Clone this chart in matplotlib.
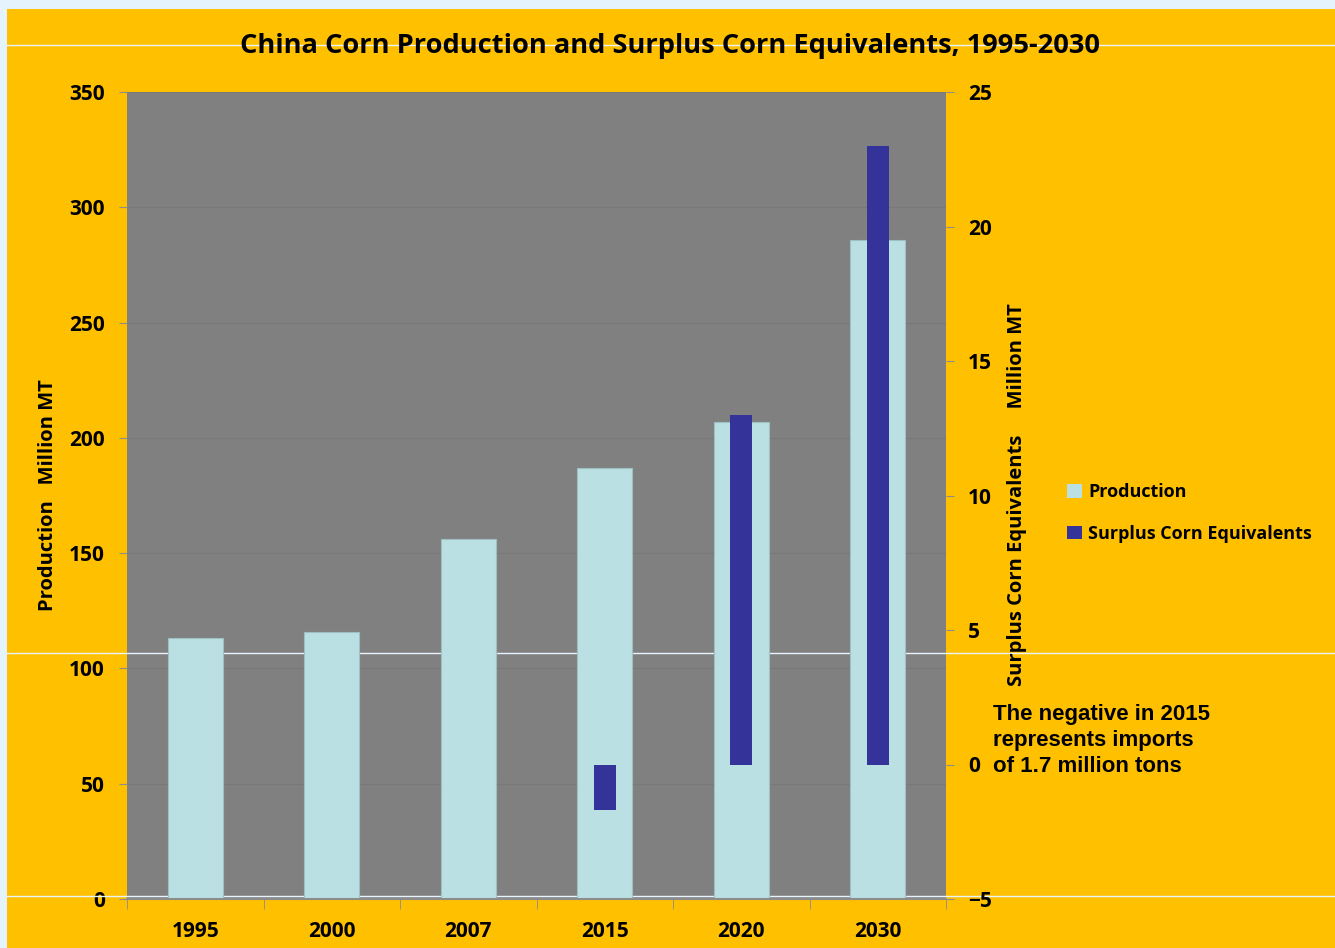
import numpy as np
import matplotlib
matplotlib.use("Agg")
import matplotlib.pyplot as plt
from matplotlib.lines import Line2D
from matplotlib.patches import Rectangle, Patch

years = ["1995", "2000", "2007", "2015", "2020", "2030"]
production = [113, 116, 156, 187, 207, 286]          # million MT
surplus = [np.nan, np.nan, np.nan, -1.7, 13, 23]     # million MT corn equivalents

plt.rcParams["font.family"] = ["Open Sans", "DejaVu Sans"]
plt.rcParams["font.weight"] = "bold"

fig = plt.figure(figsize=(13.35, 9.48), dpi=100, facecolor="#E4F3FC")
fig.add_artist(Rectangle((7 / 1335, 0), 1, 1 - 9 / 948, transform=fig.transFigure,
                         facecolor="#FFC000", edgecolor="none", zorder=-5))

ax = fig.add_axes([127 / 1335, 49 / 948, 819 / 1335, 807 / 948])
ax.set_facecolor("#808080")
x = np.arange(len(years))

ax.bar(x, production, width=0.4, color="#BAE0E3", edgecolor="#9FBFC3", linewidth=0.8, zorder=2)
ax.set_xlim(-0.5, len(years) - 0.5)
ax.set_ylim(0, 350)
ax.set_yticks(range(0, 351, 50))
ax.yaxis.grid(True, color="#787878", linewidth=0.8, zorder=0)
ax.set_axisbelow(True)

ax2 = ax.twinx()
ax2.bar(x, surplus, width=0.16, color="#333399", zorder=3)
ax2.set_ylim(-5, 25)
ax2.set_yticks(range(-5, 26, 5))

# slide guide lines running across the whole figure
for ypix in (45, 653, 896):
    yf = 1 - ypix / 948
    ax.add_line(Line2D([7 / 1335, 1], [yf, yf], transform=fig.transFigure,
                       color="#E8F4FF", linewidth=1, clip_on=False, zorder=1))

ax.set_xticks(x)
ax.set_xticklabels(years)
ax.set_xticks(np.arange(-0.5, len(years), 1), minor=True)
ax.tick_params(axis="x", which="major", length=0, pad=16, labelsize=15)
ax.tick_params(axis="x", which="minor", length=7, color="#8C8C8C", direction="out")
ax.tick_params(axis="y", length=6, color="#8C8C8C", labelsize=15, pad=10)
ax2.tick_params(axis="y", length=6, color="#8C8C8C", labelsize=15, pad=10)
for a in (ax, ax2):
    for s in a.spines.values():
        s.set_visible(False)
ax.spines["bottom"].set_visible(True)
ax.spines["bottom"].set_color("#8C8C8C")
ax.spines["bottom"].set_linewidth(1.5)
for lab in ax.get_xticklabels() + ax.get_yticklabels() + ax2.get_yticklabels():
    lab.set_fontweight("bold")

fig.text(670 / 1335, 1 - 46 / 948, "China Corn Production and Surplus Corn Equivalents, 1995-2030",
         ha="center", va="center", fontsize=19.6, fontweight="bold")
fig.text(48 / 1335, 1 - 495 / 948, "Production   Million MT", rotation=90,
         ha="center", va="center", fontsize=14.5, fontweight="bold")
fig.text(1017 / 1335, 1 - 495 / 948, "Surplus Corn Equivalents     Million MT", rotation=90,
         ha="center", va="center", fontsize=14.5, fontweight="bold")

handles = [Patch(facecolor="#BAE0E3", edgecolor="none", label="Production"),
           Patch(facecolor="#333399", edgecolor="none", label="Surplus Corn Equivalents")]
fig.legend(handles=handles, loc="center left", bbox_to_anchor=(1051 / 1335, 1 - 513 / 948),
           frameon=False, handlelength=0.8, handleheight=0.8, handletextpad=0.35,
           labelspacing=1.3, prop={"size": 13, "weight": "bold"})

fig.text(993 / 1335, 1 - 704 / 948,
         "The negative in 2015\nrepresents imports\nof 1.7 million tons",
         ha="left", va="top", fontsize=16, fontweight="bold",
         family="Liberation Sans", linespacing=1.3)

fig.savefig("out.png", dpi=100, facecolor=fig.get_facecolor())
